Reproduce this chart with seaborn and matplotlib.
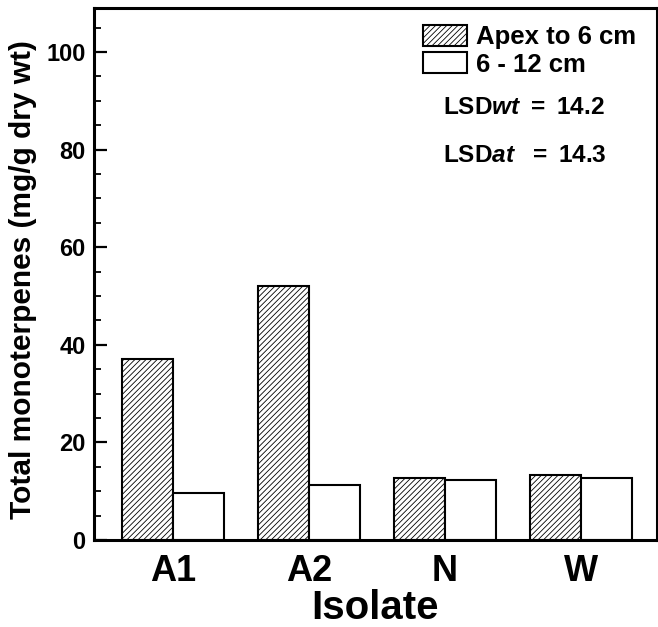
import matplotlib
matplotlib.use("Agg")
import matplotlib.pyplot as plt
import pandas as pd
import seaborn as sns
from matplotlib.patches import Patch
from matplotlib.ticker import MultipleLocator

## data
isolates = ["A1", "A2", "N", "W"]
sections = ["Apex to 6 cm", "6 - 12 cm"]
apex_vals = [37.0, 52.0, 12.7, 13.3]
mid_vals = [9.7, 11.2, 12.2, 12.8]

df = pd.DataFrame({
    "isolate": isolates * 2,
    "section": [sections[0]] * 4 + [sections[1]] * 4,
    "value": apex_vals + mid_vals,
})

sns.set_theme(style="ticks")
plt.rcParams["font.family"] = ["Liberation Sans", "DejaVu Sans"]
plt.rcParams["font.weight"] = "bold"
plt.rcParams["text.color"] = "black"
plt.rcParams["axes.labelcolor"] = "black"
plt.rcParams["xtick.color"] = "black"
plt.rcParams["ytick.color"] = "black"
plt.rcParams["hatch.linewidth"] = 0.6
plt.rcParams["mathtext.fontset"] = "custom"
plt.rcParams["mathtext.rm"] = "Liberation Sans:bold"
plt.rcParams["mathtext.bf"] = "Liberation Sans:bold"
plt.rcParams["mathtext.it"] = "Liberation Sans:bold:italic"

fig = plt.figure(figsize=(6.58, 6.27), dpi=100)
ax = fig.add_axes([94 / 658, 1 - 540 / 627, (657 - 94) / 658, (540 - 8) / 627])

sns.barplot(data=df, x="isolate", y="value", hue="section", order=isolates,
            hue_order=sections, palette=["white", "white"], edgecolor="black",
            linewidth=1.5, width=0.75, gap=0, saturation=1, legend=False, ax=ax)

# hatch the apex bars
for bar in ax.containers[0]:
    bar.set_hatch("//////")

ax.set_xlim(-0.58, 3.56)
ax.set_ylim(0, 109)
ax.yaxis.set_major_locator(MultipleLocator(20))
ax.yaxis.set_minor_locator(MultipleLocator(5))
ax.tick_params(axis="y", which="major", direction="in", length=9, width=1.6, labelsize=17, pad=6)
ax.tick_params(axis="y", which="minor", direction="in", length=5, width=1.3)
ax.tick_params(axis="x", length=0, labelsize=26, pad=10)
for lab in ax.get_xticklabels() + ax.get_yticklabels():
    lab.set_fontweight("bold")

for side in ["left", "right", "top", "bottom"]:
    ax.spines[side].set_visible(True)
    ax.spines[side].set_linewidth(2.2)
    ax.spines[side].set_color("black")

ax.set_ylabel("Total monoterpenes (mg/g dry wt)", fontsize=21.5, fontweight="bold")
ax.yaxis.set_label_coords(-57 / 563, 0.49)
ax.set_xlabel("Isolate", fontsize=29, fontweight="bold", labelpad=0)

handles = [Patch(facecolor="white", edgecolor="black", hatch="//////", linewidth=1.5, label=sections[0]),
           Patch(facecolor="white", edgecolor="black", linewidth=1.5, label=sections[1])]
ax.legend(handles=handles, loc="upper left", bbox_to_anchor=(423 / 658, 1 - 25 / 627),
          bbox_transform=fig.transFigure, frameon=False, borderpad=0,
          borderaxespad=0, handlelength=1.72, handleheight=0.86, handletextpad=0.36,
          labelspacing=0.12, prop={"weight": "bold", "size": 18.5})

fig.text(443 / 658, 1 - 107 / 627, r"$\mathrm{LSD}\mathit{wt}\mathrm{\ =\ 14.2}$",
         fontsize=17.6, va="center", ha="left")
fig.text(443 / 658, 1 - 155 / 627, r"$\mathrm{LSD}\mathit{at}\mathrm{\ \ =\ 14.3}$",
         fontsize=17.6, va="center", ha="left")

fig.savefig("out.png", dpi=100)
